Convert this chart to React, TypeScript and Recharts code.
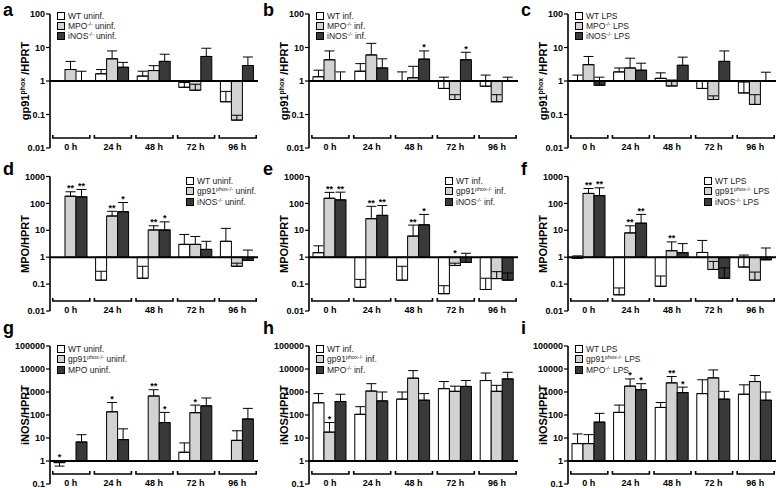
import React from 'react';
import { BarChart, Bar, XAxis, YAxis, ErrorBar, ReferenceLine } from 'recharts';

const timePoints = ['0 h', '24 h', '48 h', '72 h', '96 h'];

// each group: mean values and the top of the error bar
// a: gp91phox/HPRT, uninfected
const aWT = [1, 1.64, 1.4, 0.65, 0.24];
const aWTTop = [1, 2.2, 1.96, 0.9, 0.49];
const aMPO = [2.2, 4.6, 2.05, 0.53, 0.068];
const aMPOTop = [3.85, 7.9, 2.87, 0.8, 0.095];
const aINOS = [1, 2.57, 3.85, 5.4, 2.9];
const aINOSTop = [1.96, 3.6, 6.3, 9.5, 5.2];

// b: gp91phox/HPRT, infected
const bWT = [1.34, 1.96, 0.97, 0.6, 0.7];
const bWTTop = [2.1, 3.3, 1.87, 1.3, 1.5];
const bMPO = [4.3, 6.0, 1.25, 0.28, 0.24];
const bMPOTop = [7.9, 13.3, 2.75, 0.39, 0.39];
const bINOS = [1, 2.45, 4.5, 4.3, 1];
const bINOSTop = [1.87, 4.6, 7.9, 7.2, 1.3];
const bINOSSig = ['', '', '*', '*', ''];

// c: gp91phox/HPRT, LPS
const cWT = [1, 1.87, 1.2, 0.6, 0.44];
const cWTTop = [1.5, 2.45, 1.75, 1.0, 0.93];
const cMPO = [3.07, 2.45, 0.71, 0.28, 0.2];
const cMPOTop = [5.4, 4.8, 1.07, 0.36, 0.39];
const cINOS = [0.75, 2.1, 2.94, 3.85, 1];
const cINOSTop = [1.3, 3.4, 5.15, 7.9, 1.83];

// d: MPO/HPRT, uninfected
const dWT = [1, 0.14, 0.165, 3.0, 3.9];
const dWTTop = [1, 0.3, 0.46, 7, 11.8];
const dGP = [185, 34, 10.3, 3.0, 0.46];
const dGPTop = [270, 51, 14.7, 5.9, 0.6];
const dGPSig = ['**', '**', '**', '', ''];
const dINOS = [175, 49, 10.3, 1.95, 0.76];
const dINOSTop = [330, 108, 20.6, 3.9, 1.84];
const dINOSSig = ['**', '*', '*', '', ''];

// e: MPO/HPRT, infected
const eWT = [1.47, 0.076, 0.14, 0.044, 0.063];
const eWTTop = [2.65, 0.15, 0.46, 0.087, 0.165];
const eGP = [155, 27, 6.1, 0.49, 0.16];
const eGPTop = [257, 78, 15.6, 0.6, 0.29];
const eGPSig = ['**', '**', '**', '*', ''];
const eINOS = [135, 36, 16, 0.64, 0.14];
const eINOSTop = [262, 83, 39, 1.4, 0.26];
const eINOSSig = ['**', '**', '*', '', ''];

// f: MPO/HPRT, LPS
const fWT = [0.92, 0.04, 0.083, 1.5, 0.43];
const fWTTop = [1.12, 0.072, 0.2, 4.2, 1.2];
const fGP = [235, 8, 1.74, 0.35, 0.14];
const fGPTop = [358, 14.7, 3.7, 0.7, 0.28];
const fGPSig = ['**', '**', '**', '', ''];
const fINOS = [195, 18.4, 1.47, 0.165, 0.8];
const fINOSTop = [380, 39, 3.2, 0.4, 2.2];
const fINOSSig = ['**', '**', '', '', ''];

// g: iNOS/HPRT, uninfected
const gWT = [0.85, 1, 1, 2.4, 1];
const gWTTop = [0.6, 1, 1, 6.1, 1];
const gWTSig = ['*', '', '', '', ''];
const gGP = [1, 138, 670, 126, 7.9];
const gGPTop = [1, 350, 1260, 270, 20.6];
const gGPSig = ['', '*', '**', '*', ''];
const gMPO = [6.7, 8.5, 47, 250, 67];
const gMPOTop = [13.9, 25, 130, 550, 194];
const gMPOSig = ['', '', '*', '', ''];

// h: iNOS/HPRT, infected
const hWT = [340, 107, 490, 1400, 3150];
const hWTTop = [850, 230, 1000, 2850, 6700];
const hGP = [18, 1100, 4000, 1070, 1070];
const hGPTop = [47, 2300, 8500, 1800, 1950];
const hGPSig = ['*', '', '', '', ''];
const hMPO = [385, 410, 440, 1750, 3700];
const hMPOTop = [800, 1000, 850, 3150, 7200];

// i: iNOS/HPRT, LPS
const iWT = [5.7, 130, 213, 850, 800];
const iWTTop = [15, 270, 350, 3400, 2050];
const iGP = [5.7, 1800, 2500, 4100, 2850];
const iGPTop = [14, 3700, 4700, 9100, 5200];
const iGPSig = ['', '*', '**', '', ''];
const iMPO = [49, 1260, 940, 490, 440];
const iMPOTop = [118, 2300, 1630, 1070, 1000];
const iMPOSig = ['', '*', '*', '', ''];

const FILLS = ['#ffffff', '#d2d2d2', '#393939'];
const COL_LEFT = [0, 260, 518];
const AXIS_W = [50, 49, 50];

const ROWS = [
  { top: 0, plotTop: 14, plotH: 134, letterTop: 0, domain: [0.01, 100], ticks: [0.01, 0.1, 1, 10, 100], title: ['gp91', 'phox', ' /HPRT'], legendDx: 7, legendTop: 10.5 },
  { top: 160, plotTop: 176.5, plotH: 134.5, letterTop: 158.5, domain: [0.01, 1000], ticks: [0.01, 0.1, 1, 10, 100, 1000], title: ['MPO/HPRT', '', ''], legendDx: 136, legendTop: 176 },
  { top: 325, plotTop: 346, plotH: 138, letterTop: 317.5, domain: [0.1, 100000], ticks: [0.1, 1, 10, 100, 1000, 10000, 100000], title: ['iNOS/HPRT', '', ''], legendDx: 7, legendTop: 344 },
];

type Series = { mean: number[]; top: number[]; sig?: string[] };
type PanelDef = { letter: string; row: number; col: number; series: Series[]; legend: string[][] };

const PANELS: PanelDef[] = [
  { letter: 'a', row: 0, col: 0, series: [{ mean: aWT, top: aWTTop }, { mean: aMPO, top: aMPOTop }, { mean: aINOS, top: aINOSTop }],
    legend: [['WT', '', ' uninf.'], ['MPO', '-/-', ' uninf.'], ['iNOS', '-/-', ' uninf.']] },
  { letter: 'b', row: 0, col: 1, series: [{ mean: bWT, top: bWTTop }, { mean: bMPO, top: bMPOTop }, { mean: bINOS, top: bINOSTop, sig: bINOSSig }],
    legend: [['WT', '', ' inf.'], ['MPO', '-/-', ' inf.'], ['iNOS', '-/-', ' inf.']] },
  { letter: 'c', row: 0, col: 2, series: [{ mean: cWT, top: cWTTop }, { mean: cMPO, top: cMPOTop }, { mean: cINOS, top: cINOSTop }],
    legend: [['WT', '', ' LPS'], ['MPO', '-/-', ' LPS'], ['iNOS', '-/-', ' LPS']] },
  { letter: 'd', row: 1, col: 0, series: [{ mean: dWT, top: dWTTop }, { mean: dGP, top: dGPTop, sig: dGPSig }, { mean: dINOS, top: dINOSTop, sig: dINOSSig }],
    legend: [['WT', '', ' uninf.'], ['gp91', 'phox-/-', ' uninf.'], ['iNOS', '-/-', ' uninf.']] },
  { letter: 'e', row: 1, col: 1, series: [{ mean: eWT, top: eWTTop }, { mean: eGP, top: eGPTop, sig: eGPSig }, { mean: eINOS, top: eINOSTop, sig: eINOSSig }],
    legend: [['WT', '', ' inf.'], ['gp91', 'phox-/-', ' inf.'], ['iNOS', '-/-', ' inf.']] },
  { letter: 'f', row: 1, col: 2, series: [{ mean: fWT, top: fWTTop }, { mean: fGP, top: fGPTop, sig: fGPSig }, { mean: fINOS, top: fINOSTop, sig: fINOSSig }],
    legend: [['WT', '', ' LPS'], ['gp91', 'phox-/-', ' LPS'], ['iNOS', '-/-', ' LPS']] },
  { letter: 'g', row: 2, col: 0, series: [{ mean: gWT, top: gWTTop, sig: gWTSig }, { mean: gGP, top: gGPTop, sig: gGPSig }, { mean: gMPO, top: gMPOTop, sig: gMPOSig }],
    legend: [['WT', '', ' uninf.'], ['gp91', 'phox-/-', ' uninf.'], ['MPO', '', ' uninf.']] },
  { letter: 'h', row: 2, col: 1, series: [{ mean: hWT, top: hWTTop }, { mean: hGP, top: hGPTop, sig: hGPSig }, { mean: hMPO, top: hMPOTop }],
    legend: [['WT', '', ' inf.'], ['gp91', 'phox-/-', ' inf.'], ['MPO', '-/-', ' inf.']] },
  { letter: 'i', row: 2, col: 2, series: [{ mean: iWT, top: iWTTop }, { mean: iGP, top: iGPTop, sig: iGPSig }, { mean: iMPO, top: iMPOTop, sig: iMPOSig }],
    legend: [['WT', '', ' LPS'], ['gp91', 'phox-/-', ' LPS'], ['MPO', '-/-', ' LPS']] },
];

// bars are drawn from 1 (the baseline) to the mean; error bars one-sided
const buildRows = (series: Series[]) =>
  timePoints.map((t, i) => {
    const row: any = { time: t };
    series.forEach((s, k) => {
      const m = s.mean[i];
      const tp = s.top[i];
      row[`v${k}`] = [1, m];
      row[`e${k}`] = tp === m ? undefined : tp > m ? [0, tp - m] : [m - tp, 0];
    });
    return row;
  });

const makeShape = (fill: string, s: Series, ppd: number) => (p: any) => {
  const { x, y, width, height } = p;
  const idx = p.payload ? timePoints.indexOf(p.payload.time) : p.index;
  const y0 = Math.min(y, y + height);
  const h = Math.abs(height);
  const v = s.mean[idx];
  const vPix = v >= 1 ? y0 : y0 + h;
  const basePix = v >= 1 ? y0 + h : y0;
  const star = s.sig ? s.sig[idx] : '';
  let starY = 0;
  if (star) {
    const t = s.top[idx];
    const errPix = t > v ? vPix - Math.log10(t / v) * ppd : vPix;
    starY = Math.min(errPix, basePix - 1) - 0.5;
  }
  return (
    <g>
      {h > 0.5 && <rect x={x} y={y0} width={width} height={h} fill={fill} stroke="#000" strokeWidth={1} />}
      {star && (
        <text x={x + width / 2} y={starY} textAnchor="middle" fontSize={9} fontWeight="bold" fontFamily="Arial" fill="#000">
          {star}
        </text>
      )}
    </g>
  );
};

const BracketTick = (props: any) => {
  const { x, y, payload } = props;
  const yb = y - 10;
  return (
    <g>
      <path d={`M${x - 18},${yb - 3}V${yb}H${x + 19}V${yb - 3}`} stroke="#000" strokeWidth={1.6} fill="none" />
      <text x={x} y={y + 2} textAnchor="middle" fontSize={9} fontWeight="bold" fontFamily="Arial" fill="#000">
        {payload.value}
      </text>
    </g>
  );
};

function Panel({ p }: { p: PanelDef }) {
  const row = ROWS[p.row];
  const left = COL_LEFT[p.col];
  const aw = AXIS_W[p.col];
  const mt = row.plotTop - row.top;
  const height = mt + row.plotH + 12;
  const ppd = row.plotH / Math.log10(row.domain[1] / row.domain[0]);
  const data = buildRows(p.series);
  const axisX = left + aw;
  return (
    <>
      <div style={{ position: 'absolute', left, top: row.top }}>
        <BarChart width={260} height={height} data={data} margin={{ top: mt, right: 2, bottom: 0, left: 0 }} barGap={0} barSize={11}>
          <XAxis dataKey="time" axisLine={false} tickLine={false} tickSize={0} tickMargin={0} height={12} interval={0} tick={(t: any) => <BracketTick {...t} />} />
          <YAxis
            type="number"
            scale="log"
            domain={row.domain}
            ticks={row.ticks}
            allowDataOverflow
            interval={0}
            width={aw}
            tickSize={4}
            tickMargin={1}
            tickFormatter={(v: number) => String(v)}
            tick={{ fontSize: 9, fontWeight: 'bold', fill: '#000', fontFamily: 'Arial' }}
            tickLine={{ stroke: '#000', strokeWidth: 1.2 }}
            axisLine={{ stroke: '#000', strokeWidth: 1.6 }}
          />
          {p.series.map((s, k) => (
            <Bar key={k} dataKey={`v${k}`} fill={FILLS[k]} isAnimationActive={false} shape={makeShape(FILLS[k], s, ppd)}>
              <ErrorBar dataKey={`e${k}`} direction="y" width={5} stroke="#000" strokeWidth={1} />
            </Bar>
          ))}
          <ReferenceLine y={1} stroke="#000" strokeWidth={2} />
        </BarChart>
      </div>
      <div style={{ position: 'absolute', left: left + 3, top: row.letterTop, fontSize: 18, fontWeight: 'bold', fontFamily: 'Arial' }}>
        {p.letter}
      </div>
      <div
        style={{
          position: 'absolute',
          left: axisX - 25,
          top: row.plotTop + row.plotH / 2,
          transform: 'translate(-50%, -50%) rotate(-90deg)',
          whiteSpace: 'nowrap',
          fontSize: 11,
          fontWeight: 'bold',
          fontFamily: 'Arial',
          lineHeight: '12px',
        }}
      >
        {row.title[0]}
        {row.title[1] && <sup style={{ fontSize: 7, lineHeight: 0, verticalAlign: 4 }}>{row.title[1]}</sup>}
        {row.title[2]}
      </div>
      <div style={{ position: 'absolute', left: axisX + row.legendDx, top: row.legendTop, fontSize: 8.5, fontFamily: 'Arial', color: '#222' }}>
        {p.legend.map((it, k) => (
          <div key={k} style={{ display: 'flex', alignItems: 'center', height: 10.3, whiteSpace: 'nowrap' }}>
            <span style={{ width: 8, height: 8, boxSizing: 'border-box', border: '1px solid #000', background: FILLS[k], marginRight: 3, flex: 'none' }} />
            <span style={{ lineHeight: '10px' }}>
              {it[0]}
              {it[1] && <sup style={{ fontSize: 5.5, lineHeight: 0, verticalAlign: 3 }}>{it[1]}</sup>}
              {it[2]}
            </span>
          </div>
        ))}
      </div>
    </>
  );
}

export default function App() {
  return (
    <div style={{ position: 'fixed', left: 0, top: 0, width: 778, height: 488, overflow: 'hidden', background: '#fff', fontFamily: 'Arial' }}>
      {PANELS.map((p) => (
        <Panel key={p.letter} p={p} />
      ))}
    </div>
  );
}
